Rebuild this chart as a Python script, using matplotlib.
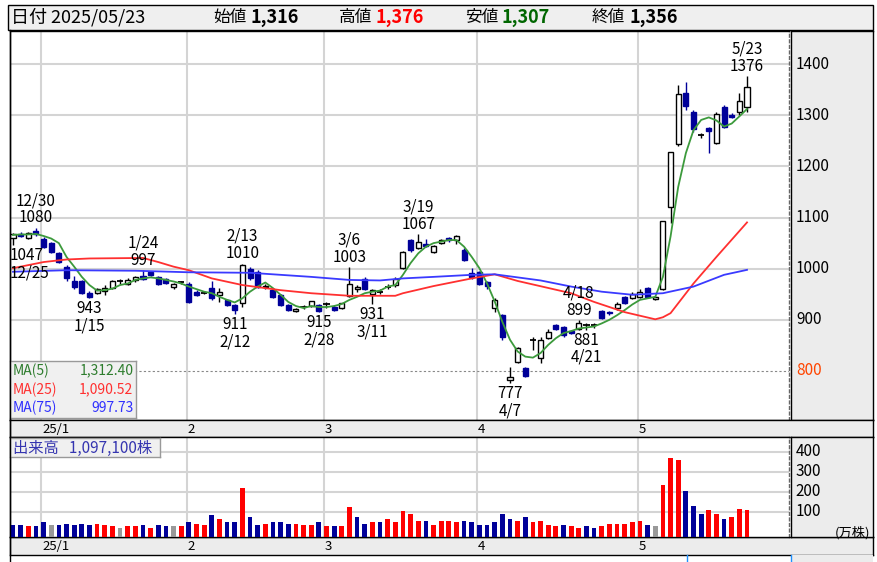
import matplotlib
matplotlib.use("Agg")
import matplotlib.pyplot as plt
from matplotlib.patches import Rectangle
from matplotlib.lines import Line2D
import numpy as np

plt.rcParams["font.family"] = ["Noto Sans CJK JP", "DejaVu Sans"]

# --- data ---------------------------------------------------------------
dates = ["12/25", "12/26", "12/27", "12/30",
         "1/6", "1/7", "1/8", "1/9", "1/10", "1/14", "1/15", "1/16", "1/17", "1/20",
         "1/21", "1/22", "1/23", "1/24", "1/27", "1/28", "1/29", "1/30", "1/31",
         "2/3", "2/4", "2/5", "2/6", "2/7", "2/10", "2/12", "2/13", "2/14", "2/17",
         "2/18", "2/19", "2/20", "2/21", "2/25", "2/26", "2/27", "2/28",
         "3/3", "3/4", "3/5", "3/6", "3/7", "3/10", "3/11", "3/12", "3/13", "3/14",
         "3/17", "3/18", "3/19", "3/21", "3/24", "3/25", "3/26", "3/27", "3/28", "3/31",
         "4/1", "4/2", "4/3", "4/4", "4/7", "4/8", "4/9", "4/10", "4/11", "4/14",
         "4/15", "4/16", "4/17", "4/18", "4/21", "4/22", "4/23", "4/24", "4/25", "4/28", "4/30",
         "5/1", "5/2", "5/7", "5/8", "5/9", "5/12", "5/13", "5/14", "5/15", "5/16",
         "5/19", "5/20", "5/21", "5/22", "5/23"]

opens = [1061, 1068, 1061, 1074,
         1059, 1050, 1030, 1004, 975, 975, 953, 953, 956, 963, 975, 971, 978, 985, 993, 983, 979, 965, 973,
         971, 955, 953, 962, 949, 939, 929, 932, 999, 994, 965, 958, 949, 929, 917, 925, 927, 929,
         930, 926, 924, 947, 961, 979, 950, 955, 965, 968, 1002, 1056, 1041, 1048, 1033, 1050, 1060, 1056, 1037, 991,
         994, 973, 923, 909, 782, 818, 806, 861, 826, 865, 889, 885, 879, 883, 890, 889, 917, 915, 923, 945, 942,
         945, 962, 940, 960, 1121, 1244, 1344, 1307, 1261, 1275, 1246, 1317, 1300, 1307, 1316]
highs = [1070, 1072, 1071, 1080,
         1062, 1052, 1032, 1008, 985, 978, 956, 962, 968, 978, 980, 982, 985, 997, 994, 985, 982, 972, 976,
         973, 958, 956, 975, 962, 941, 931, 1010, 1003, 998, 970, 960, 951, 931, 924, 928, 937, 931,
         935, 929, 933, 1003, 968, 984, 960, 960, 970, 984, 1035, 1058, 1067, 1058, 1047, 1058, 1062, 1065, 1040, 1002,
         996, 975, 943, 911, 808, 846, 808, 866, 866, 882, 892, 888, 881, 899, 894, 893, 920, 918, 935, 947, 955,
         960, 965, 946, 1094, 1229, 1359, 1365, 1310, 1266, 1278, 1306, 1321, 1304, 1343, 1376]
lows = [1047, 1062, 1058, 1064,
        1040, 1030, 1012, 975, 960, 950, 943, 950, 948, 960, 970, 968, 974, 977, 986, 968, 970, 960, 970,
        932, 947, 950, 938, 935, 927, 911, 925, 978, 962, 960, 943, 927, 917, 916, 921, 925, 915,
        923, 917, 921, 945, 955, 958, 931, 950, 960, 965, 1000, 1033, 1038, 1042, 1030, 1048, 1052, 1048, 1015, 980,
        968, 960, 915, 860, 777, 815, 788, 840, 815, 862, 880, 866, 873, 881, 881, 884, 902, 910, 920, 930, 940,
        943, 944, 938, 958, 1090, 1240, 1310, 1268, 1256, 1226, 1244, 1275, 1294, 1300, 1307]
closes = [1067, 1064, 1069, 1067,
          1042, 1033, 1014, 981, 965, 952, 945, 960, 963, 975, 975, 978, 983, 979, 988, 971, 972, 971, 973,
          935, 949, 953, 942, 955, 929, 919, 1008, 981, 965, 966, 945, 929, 919, 922, 925, 936, 918,
          930, 919, 932, 971, 965, 960, 958, 955, 965, 980, 1033, 1037, 1052, 1045, 1045, 1056, 1056, 1064, 1017, 984,
          971, 967, 939, 867, 789, 844, 791, 861, 861, 876, 883, 870, 875, 894, 890, 889, 904, 914, 930, 932, 951,
          955, 945, 945, 1094, 1229, 1341, 1318, 1274, 1261, 1270, 1302, 1278, 1297, 1328, 1356]

ma5 = [1066, 1067, 1067, 1068,
       1064, 1059, 1050, 1023, 1004, 984, 968, 957, 958, 961, 968, 971, 978, 981, 983, 981, 978, 975, 971,
       965, 960, 955, 952, 945, 939, 934, 942, 955, 965, 973, 962, 949, 935, 927, 923, 927, 925,
       925, 927, 931, 939, 945, 952, 955, 957, 965, 968, 988, 1011, 1030, 1043, 1050, 1053, 1056, 1056, 1043, 1023,
       1001, 971, 936, 896, 861, 838, 828, 826, 835, 851, 864, 874, 878, 883, 885, 887, 893, 900, 909, 919, 930,
       939, 942, 945, 984, 1063, 1160, 1226, 1271, 1291, 1296, 1290, 1278, 1284, 1298, 1312.4]

ma25_dates = ["12/25", "1/6", "1/9", "1/15", "1/24", "1/28", "1/30", "2/3", "2/6", "2/13", "2/17",
              "2/20", "2/27", "3/6", "3/12", "3/14", "3/17", "3/24", "3/31", "4/3", "4/8", "4/17",
              "4/22", "4/28", "5/7", "5/8", "5/9", "5/14", "5/19", "5/23"]
ma25_vals = [1001, 1013, 1018, 1020, 1021, 1013, 1004, 997, 981, 968, 964,
             958, 952, 947, 947, 947, 952, 966, 981, 989, 976, 952,
             935, 915, 901, 905, 913, 971, 1023, 1090.52]

ma75_dates = ["12/25", "1/9", "1/23", "2/3", "2/14", "2/27", "3/6", "3/12", "3/17", "3/24",
              "3/31", "4/3", "4/11", "4/17", "4/23", "4/30", "5/8", "5/14", "5/20", "5/23"]
ma75_vals = [994, 997, 996, 993, 992, 984, 978, 977, 981, 984,
             988, 989, 977, 965, 955, 949, 952, 965, 988, 997.73]

# volume in 10,000 shares; u = up day, d = down day, n = unchanged
volumes = [35, 35, 30, 30, 48, 35, 35, 42, 35, 42, 35, 42, 35, 28, 22, 28, 28, 35, 22, 35,
           28, 28, 28, 48, 42, 35, 83, 63, 48, 48, 222, 77, 35, 42, 48, 48, 42, 42, 35, 35,
           48, 28, 28, 28, 123, 77, 42, 48, 48, 63, 48, 103, 90, 57, 57, 35, 57, 57, 50, 57,
           50, 35, 35, 50, 90, 63, 57, 77, 50, 57, 35, 28, 35, 28, 22, 28, 22, 28, 42, 42,
           42, 50, 57, 35, 28, 235, 372, 358, 207, 132, 90, 110, 90, 63, 77, 117, 110]
vol_dir = list("dduddndddd" "duuunuudud" "dnuduududd" "udduddduuu" "duduuddudu"
               "uuuuduuuud" "dddddduduu" "uuduudduuu" "uuudnuuudd" "duuduuu")

price_ticks = [900, 1000, 1100, 1200, 1300, 1400]
volume_ticks = [100, 200, 300, 400]
month_labels = ["25/1", "2", "3", "4", "5"]

high_marks = [("12/30", 1080), ("1/24", 997), ("2/13", 1010), ("3/6", 1003),
              ("3/19", 1067), ("4/18", 899), ("5/23", 1376)]
low_marks = [("12/25", 1047), ("1/15", 943), ("2/12", 911), ("2/28", 915),
             ("3/11", 931), ("4/7", 777), ("4/21", 881)]

# --- layout helpers ----------------------------------------------------------
W, H = 878, 562
STEP = 7.646      # pixels per trading day
X_FIRST = 13      # pixel of first candle

NAVY = "#000099"
GRID = "#d4d4d4"
PANEL = "#ececec"

fig = plt.figure(figsize=(W / 100, H / 100), dpi=100)


def box(x0, y0, x1, y1):
    return [x0 / W, 1 - y1 / H, (x1 - x0) / W, (y1 - y0) / H]


def day_lim(px0, px1):
    return ((px0 - X_FIRST) / STEP, (px1 - X_FIRST) / STEP)


def bare(ax):
    ax.set_xticks([])
    ax.set_yticks([])
    for s in ax.spines.values():
        s.set_color("black")
        s.set_linewidth(1)


idx = np.arange(len(dates))
pos = {d: i for i, d in enumerate(dates)}
months = [d.split("/")[0] for d in dates]
month_starts = [i - 0.3 for i in range(1, len(dates)) if months[i] != months[i - 1]]

# header
fig.patches.append(Rectangle((8 / W, 1 - 30 / H), 865 / W, 25 / H, transform=fig.transFigure,
                             facecolor="#efefef", edgecolor="black", lw=1))
hy = 1 - 17.5 / H
fig.text(11 / W, hy, "日付 2025/05/23", fontsize=13, va="center")
for lx, lab, vx, val, col in [(213, "始値", 251, "1,316", "black"),
                              (339, "高値", 376, "1,376", "#ff0000"),
                              (465, "安値", 502, "1,307", "#006600"),
                              (592, "終値", 630, "1,356", "black")]:
    fig.text(lx / W, hy, lab, fontsize=12, va="center")
    fig.text(vx / W, hy, val, fontsize=13, va="center", fontweight="bold", color=col)

# --- price panel ---------------------------------------------------------
ax = fig.add_axes(box(10, 31, 789, 420))
bare(ax)
ax.spines["right"].set_linestyle((0, (2, 2)))
ax.spines["right"].set_color("#666666")
ax.set_xlim(*day_lim(10, 789))
ax.set_ylim(704, 1465)
for p in price_ticks:
    ax.axhline(p, color=GRID, lw=1.5, zorder=0)
for m in month_starts:
    ax.axvline(m, color=GRID, lw=1.5, zorder=0)
ax.axhline(800, color="#888888", lw=0.8, ls=(0, (2, 2)), zorder=1)

for i in idx:
    o, h, l, c = opens[i], highs[i], lows[i], closes[i]
    if c > o:
        face, edge = "white", "black"
    elif c < o:
        face, edge = NAVY, NAVY
    else:
        face, edge = "black", "black"
    ax.vlines(i, l, h, color=edge, lw=1, zorder=3)
    if c == o:
        ax.hlines(c, i - 0.4, i + 0.4, color="black", lw=1.3, zorder=4)
    else:
        ax.bar(i, abs(c - o), bottom=min(o, c), width=0.66, facecolor=face,
               edgecolor=edge, linewidth=1, zorder=4)

ax.plot(idx, ma5, color="#3c9a3c", lw=1.3, zorder=5)
ax.plot([pos[d] for d in ma25_dates], ma25_vals, color="#ff3030", lw=1.3, zorder=5)
ax.plot([pos[d] for d in ma75_dates], ma75_vals, color="#3a3aff", lw=1.3, zorder=5)

for d, v in high_marks:
    i = pos[d]
    ax.annotate(str(v), (i, v), xytext=(0, 1), textcoords="offset points",
                ha="center", va="bottom", fontsize=11, zorder=6)
    ax.annotate(d, (i, v), xytext=(0, 13.5), textcoords="offset points",
                ha="center", va="bottom", fontsize=11, zorder=6)
for d, v in low_marks:
    i = pos[d]
    xx, ha = (i, "center") if i > 0 else (-0.45, "left")
    ax.annotate(str(v), (xx, v), xytext=(0, -1.5), textcoords="offset points",
                ha=ha, va="top", fontsize=11, zorder=6, annotation_clip=False)
    ax.annotate(d, (xx, v), xytext=(0, -14), textcoords="offset points",
                ha=ha, va="top", fontsize=11, zorder=6, annotation_clip=False)

# MA legend box
lg = fig.add_axes(box(10, 361, 136, 418))
lg.set_facecolor("#f0f0f0")
bare(lg)
for s in lg.spines.values():
    s.set_color("#999999")
lg.set_xlim(0, 1)
lg.set_ylim(0, 1)
for k, (name, val, col) in enumerate([("MA(5)", "1,312.40", "#2e7d2e"),
                                       ("MA(25)", "1,090.52", "#ff3030"),
                                       ("MA(75)", "997.73", "#3030ff")]):
    yy = 0.83 - k * 0.33
    lg.text(0.02, yy, name, color=col, fontsize=10, va="center")
    lg.text(0.98, yy, val, color=col, fontsize=10, va="center", ha="right")

# right price scale
axr = fig.add_axes(box(791, 31, 873, 420))
axr.set_facecolor(PANEL)
bare(axr)
axr.set_ylim(ax.get_ylim())
axr.set_xlim(0, 1)
for p in price_ticks:
    axr.text(0.06, p, str(p), fontsize=11, va="center")
axr.text(0.06, 800, "800", fontsize=11, va="center", color="#ff4500")

# month strips
for y0, y1 in [(420, 437), (537, 555)]:
    st = fig.add_axes(box(10, y0, 873, y1))
    st.set_facecolor(PANEL)
    bare(st)
    st.set_xlim(*day_lim(10, 873))
    st.set_ylim(0, 1)
    for m, lab in zip(month_starts, month_labels):
        st.text(m + 0.1, 0.45, lab, fontsize=9.5, va="center")

# --- volume panel -----------------------------------------------------------
av = fig.add_axes(box(10, 437, 789, 537))
bare(av)
av.spines["right"].set_linestyle((0, (2, 2)))
av.spines["right"].set_color("#666666")
av.set_xlim(*day_lim(10, 789))
av.set_ylim(-25, 475)
for t in volume_ticks:
    av.axhline(t, color=GRID, lw=1.5, zorder=0)
for m in month_starts:
    av.axvline(m, color=GRID, lw=1.5, zorder=0)
vcol = {"u": "#ff0000", "d": NAVY, "n": "#999999"}
av.bar(idx, np.array(volumes) + 25, bottom=-25, width=0.62,
       color=[vcol[c] for c in vol_dir], zorder=3)

vl = fig.add_axes(box(10, 438, 160, 457))
vl.set_facecolor("#f0f0f0")
bare(vl)
for s in vl.spines.values():
    s.set_color("#999999")
vl.text(0.02, 0.45, "出来高   1,097,100株", color="#3535b0", fontsize=11,
        va="center", transform=vl.transAxes)

avr = fig.add_axes(box(791, 437, 873, 537))
avr.set_facecolor(PANEL)
bare(avr)
avr.set_ylim(av.get_ylim())
avr.set_xlim(0, 1)
for t in volume_ticks:
    avr.text(0.06, t, str(t), fontsize=11, va="center")
avr.text(0.97, -3, "(万株)", fontsize=9.5, va="center", ha="right")

# bottom frame bits
fig.patches.append(Rectangle((791 / W, 0), 82 / W, 7 / H, transform=fig.transFigure,
                             facecolor=PANEL, edgecolor="none"))
fig.lines.append(Line2D([10 / W, 10 / W], [0, 1 - 30 / H], transform=fig.transFigure,
                        color="black", lw=1))
for bx in [687, 791]:
    fig.lines.append(Line2D([bx / W, bx / W], [0, 7 / H], transform=fig.transFigure,
                            color="#1e90ff", lw=1))

fig.savefig("out.png", dpi=100)
